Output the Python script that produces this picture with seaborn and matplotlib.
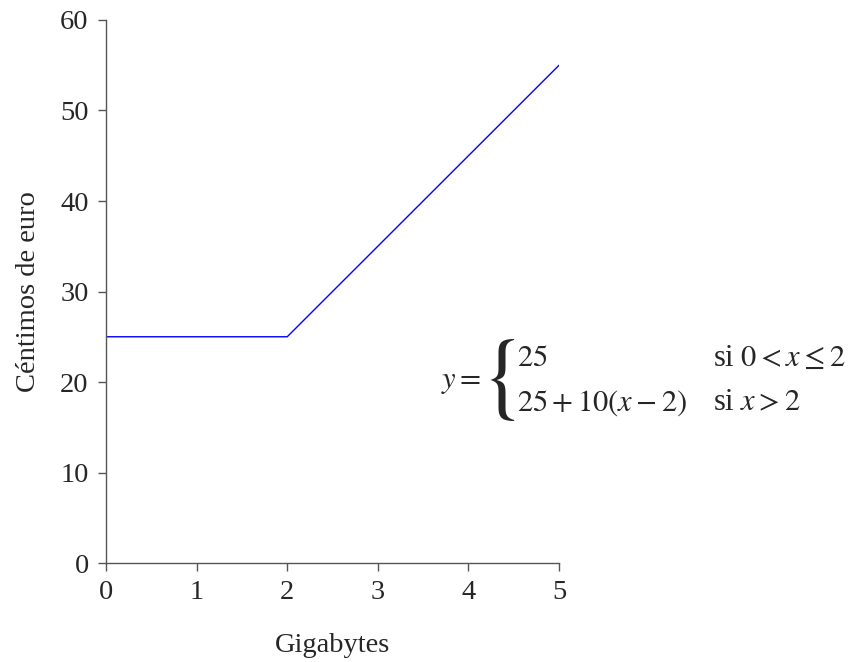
import numpy as np
import seaborn as sns
import matplotlib.pyplot as plt

# coste en céntimos según gigabytes consumidos
gigabytes = [0, 2, 5]
centimos = [25, 25, 55]
x_ticks = [0, 1, 2, 3, 4, 5]
y_ticks = [0, 10, 20, 30, 40, 50, 60]

sns.set_style("ticks")
plt.rcParams['font.family'] = ['Liberation Serif', 'DejaVu Serif']
plt.rcParams['mathtext.fontset'] = 'stix'

fig = plt.figure(figsize=(8.57, 6.62), dpi=100)
ax = fig.add_axes([0.1237, 0.1495, 0.5286, 0.8203])

sns.lineplot(x=gigabytes, y=centimos, ax=ax, color='#0000ff', linewidth=1)

ax.set_xlim(0, 5)
ax.set_ylim(0, 60)
ax.set_xticks(x_ticks)
ax.set_yticks(y_ticks)
ax.tick_params(direction='out', length=5.5, width=1, color='#555555',
               labelsize=20.5, pad=7)
for side in ['top', 'right']:
    ax.spines[side].set_visible(False)
for side in ['left', 'bottom']:
    ax.spines[side].set_color('#555555')
    ax.spines[side].set_linewidth(1)

ax.set_xlabel("Gigabytes", fontsize=20.5, labelpad=20)
ax.set_ylabel("Céntimos de euro", fontsize=20.5, labelpad=14)

# fórmula a trozos
fs = 22
fig.text(441 / 857, 1 - 382 / 662, r"$y=$", fontsize=fs, va='center', ha='left')
brace = fig.text(515 / 857, 1 - 381 / 662,
                 r"$\left\{\genfrac{}{}{0}{0}{\ }{\ }\right.$",
                 fontsize=fs * 3.1, va='center', ha='right')
fig.text(517 / 857, 1 - 358 / 662, r"$25$", fontsize=fs, va='center', ha='left')
fig.text(713 / 857, 1 - 358 / 662, r"si $0<x\leq 2$", fontsize=fs, va='center', ha='left')
fig.text(517 / 857, 1 - 403 / 662, r"$25+10(x-2)$", fontsize=fs, va='center', ha='left')
fig.text(713 / 857, 1 - 403 / 662, r"si $x>2$", fontsize=fs, va='center', ha='left')

try:
    plt.savefig('out.png', dpi=100)
except Exception:
    brace.set_text(r"$\{$")
    brace.set_fontsize(70)
    plt.savefig('out.png', dpi=100)
